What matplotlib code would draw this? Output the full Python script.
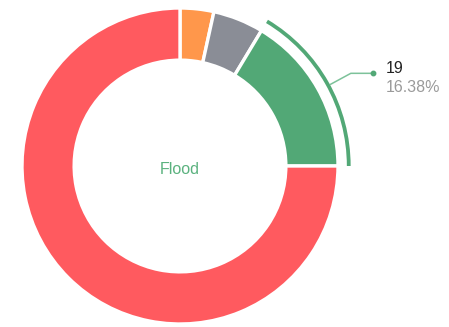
import matplotlib.pyplot as plt
import numpy as np

plt.rcParams['font.family'] = ['Liberation Sans', 'DejaVu Sans']

# --- Data (clockwise from 12 o'clock) ---
labels = ["Orange", "Gray", "Flood", "Red"]
values = [4, 6, 19, 87]
colors = ['#FF974B', '#8A8D96', '#52A876', '#FF5A5F']
highlight = "Flood"

W, H = 449, 327
R_PX = 158            # outer radius in pixels
CX, CY = 180, 166     # centre in pixels (from top-left)

fig = plt.figure(figsize=(W / 100, H / 100), dpi=100)
ax = fig.add_axes([0, 0, 1, 1])

# main donut
wedges, _ = ax.pie(
    values,
    colors=colors,
    startangle=90,
    counterclock=False,
    radius=1.0,
    wedgeprops=dict(width=0.33, edgecolor='white', linewidth=2.4),
)

# thin outer ring on the highlighted slice
hi = labels.index(highlight)
ring_colors = ['none'] * len(values)
ring_colors[hi] = colors[hi]
ax.pie(
    values,
    colors=ring_colors,
    startangle=90,
    counterclock=False,
    radius=1.08,
    wedgeprops=dict(width=0.024, linewidth=0),
)

# leader line + label for the highlighted slice
w = wedges[hi]
mid = np.deg2rad((w.theta1 + w.theta2) / 2 - 1)
p0 = (1.085 * np.cos(mid), 1.085 * np.sin(mid))
p1 = (1.23 * np.cos(mid), 1.23 * np.sin(mid))
p2 = (p1[0] + 0.14, p1[1])
ax.plot([p0[0], p1[0], p2[0]], [p0[1], p1[1], p2[1]], color='#7DC29A', lw=1.1)
ax.plot([p2[0]], [p2[1]], 'o', color='#52A876', ms=3.2)

total = sum(values)
ax.text(p2[0] + 0.083, p2[1], str(values[hi]), fontsize=11.5,
        color='#222222', ha='left', va='baseline')
ax.text(p2[0] + 0.083, p2[1] - 0.12, f"{values[hi] / total * 100:.2f}%", fontsize=11.5,
        color='#9A9A9A', ha='left', va='baseline')

# centre label
ax.text(0, -0.05, highlight, fontsize=11.5, color='#5BB27F', ha='center', va='baseline')

ax.set_aspect('equal')
ax.set_xlim(-CX / R_PX, (W - CX) / R_PX)
ax.set_ylim(-(H - CY) / R_PX, CY / R_PX)
ax.axis('off')

fig.savefig('out.png', dpi=100, facecolor='white')
